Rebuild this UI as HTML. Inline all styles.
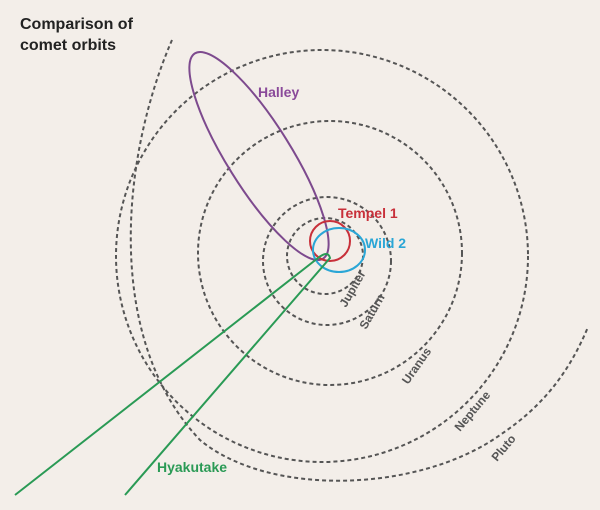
<!DOCTYPE html>
<html><head><style>
html,body{margin:0;padding:0;background:#f3eee9;}
svg{display:block;}
text{font-family:"Liberation Sans",sans-serif;font-weight:bold;}
</style></head><body>
<svg width="600" height="510" viewBox="0 0 600 510">
<rect width="600" height="510" fill="#f3eee9"/>
<g fill="none" stroke="#555" stroke-width="2" stroke-dasharray="4,3">
<circle cx="325" cy="256" r="38"/>
<circle cx="327" cy="261" r="64"/>
<circle cx="330" cy="253" r="132"/>
<circle cx="322" cy="256" r="206"/>
<path d="M172,40 C120,160 105,340 200,440 C270,498 420,492 500,435 C545,405 570,370 588,327"/>
</g>
<ellipse cx="259" cy="156" rx="121" ry="32" transform="rotate(58 259 156)" fill="none" stroke="#7d4a8e" stroke-width="2"/>
<circle cx="330" cy="241" r="20" fill="none" stroke="#c8303a" stroke-width="2"/>
<ellipse cx="339" cy="250" rx="26" ry="22" fill="none" stroke="#2aa6d6" stroke-width="2"/>
<g fill="none" stroke="#2a9a55" stroke-width="2">
<path d="M15,495 L318,258 Q328,250 330,258 L125,495"/>
</g>
<text x="20" y="29" font-size="16" fill="#222">Comparison of</text>
<text x="20" y="50" font-size="16" fill="#222">comet orbits</text>
<text x="258" y="97" font-size="14" fill="#8a4a9a">Halley</text>
<text x="338" y="218" font-size="14" fill="#c8303a">Tempel 1</text>
<text x="365" y="248" font-size="14" fill="#2aa6d6">Wild 2</text>
<text x="157" y="472" font-size="14" fill="#2a9a55">Hyakutake</text>
<g font-size="12" fill="#555">
<text transform="translate(346,308) rotate(-60)">Jupiter</text>
<text transform="translate(366,330) rotate(-60)">Saturn</text>
<text transform="translate(408,385) rotate(-55)">Uranus</text>
<text transform="translate(460,432) rotate(-50)">Neptune</text>
<text transform="translate(497,462) rotate(-50)">Pluto</text>
</g>
</svg>
</body></html>
